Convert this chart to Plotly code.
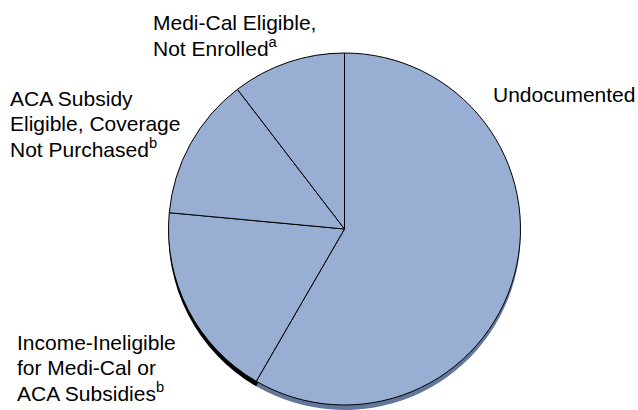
import plotly.graph_objects as go

# Data (shares of uninsured)
categories = [
    "Undocumented",
    "Income-Ineligible for Medi-Cal or ACA Subsidies",
    "ACA Subsidy Eligible, Coverage Not Purchased",
    "Medi-Cal Eligible, Not Enrolled",
]
values = [58.3, 18.1, 13.1, 10.4]
label_lines = [
    ["Undocumented"],
    ["Income-Ineligible", "for Medi-Cal or", "ACA Subsidies<sup>b</sup>"],
    ["ACA Subsidy", "Eligible, Coverage", "Not Purchased<sup>b</sup>"],
    ["Medi-Cal Eligible,", "Not Enrolled<sup>a</sup>"],
]

W, H = 638, 410
FILL = "#98afd3"
FONT = "Liberation Sans, Arial, Helvetica, sans-serif"
FS = 21
LINE_H = 24.5

cx, cy, r = 344.5, 229, 176
shadow_dy = 5

def dom(cxp, cyp, rad):
    return dict(x=[(cxp - rad) / W, (cxp + rad) / W],
                y=[1 - (cyp + rad) / H, 1 - (cyp - rad) / H])

fig = go.Figure()
# 3-D rim / shadow beneath the pie
fig.add_trace(go.Pie(
    labels=categories, values=values, sort=False, direction="clockwise",
    rotation=0, textinfo="none", hoverinfo="skip", showlegend=False,
    marker=dict(colors=["#63779a", "#000000", "#000000", "#000000"],
                line=dict(width=0)),
    domain=dom(cx, cy + shadow_dy, r),
))
# Main pie
fig.add_trace(go.Pie(
    labels=categories, values=values, sort=False, direction="clockwise",
    rotation=0, textinfo="none", hoverinfo="label+percent", showlegend=False,
    marker=dict(colors=[FILL] * len(values), line=dict(color="#000000", width=1)),
    domain=dom(cx, cy, r),
))

# Label positions: left x and first-line baseline (pixels)
label_pos = [(491, 101), (15, 349), (8, 105), (151, 29)]
for lines, (px, base) in zip(label_lines, label_pos):
    for i, line in enumerate(lines):
        b = base + i * LINE_H
        fig.add_annotation(
            text=line, x=px / W, y=1 - (b - 6.5) / H, xref="paper", yref="paper",
            xanchor="left", yanchor="middle", align="left", showarrow=False,
            font=dict(family=FONT, size=FS, color="#000000"),
        )

fig.update_layout(
    width=W, height=H, margin=dict(l=0, r=0, t=0, b=0),
    paper_bgcolor="white", plot_bgcolor="white",
    font=dict(family=FONT),
)
fig.write_html("out.html", config={"displayModeBar": False},
               post_script="document.body.style.margin='0';document.body.style.padding='0';")
